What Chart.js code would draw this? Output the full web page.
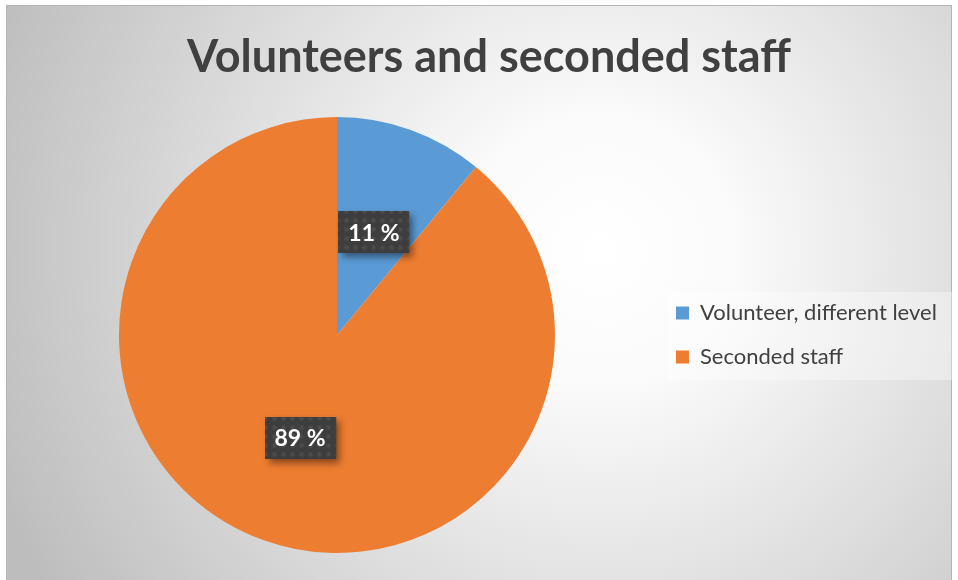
<!DOCTYPE html>
<html>
<head>
<meta charset="utf-8">
<title>Volunteers and seconded staff</title>
<script src="https://cdn.jsdelivr.net/npm/chart.js@4.4.1/dist/chart.umd.min.js"></script>
<style>
  html, body { margin: 0; padding: 0; background: #fff; }
</style>
</head>
<body>
<canvas id="chart" width="958" height="580"></canvas>
<script>
// volunteers vs seconded staff, share in percent

const chartTitle = 'Volunteers and seconded staff';
const categories = ['Volunteer, different level', 'Seconded staff'];
const shares = [11, 89];
const sliceColors = ['#5b9bd5', '#ed7d31'];

Chart.defaults.font.family = 'Lato';

// dotted texture for the value boxes
function dotTile() {
    const c = document.createElement('canvas');
    c.width = 9;
    c.height = 9;
    const t = c.getContext('2d');
    t.fillStyle = '#3d3d3d';
    t.fillRect(0, 0, 9, 9);
    const g = t.createRadialGradient(4.5, 4.5, 0, 4.5, 4.5, 3.5);
    g.addColorStop(0, 'rgba(255,255,255,0.10)');
    g.addColorStop(1, 'rgba(255,255,255,0)');
    t.fillStyle = g;
    t.fillRect(0, 0, 9, 9);
    return c;
}

// grey radial background, frame and the panel behind the legend
const backdrop = {
    id: 'backdrop',
    beforeDraw(chart) {
        const ctx = chart.ctx;
        const w = chart.width, h = chart.height;
        ctx.save();
        ctx.fillStyle = '#ffffff';
        ctx.fillRect(0, 0, w, h);
        const g = ctx.createRadialGradient(600, 250, 0, 600, 250, 650);
        g.addColorStop(0, '#ffffff');
        g.addColorStop(0.2, '#fbfbfb');
        g.addColorStop(1, '#bdbdbd');
        ctx.fillStyle = g;
        ctx.fillRect(6, 5, w - 12, h);
        ctx.strokeStyle = '#b4b4b4';
        ctx.lineWidth = 1;
        ctx.strokeRect(6.5, 5.5, w - 13, h);

        const lg = chart.legend;
        const cy = (lg.top + lg.bottom) / 2;
        ctx.fillStyle = 'rgba(255,255,255,0.35)';
        ctx.fillRect(lg.left + 14, cy - 43, lg.width - 17, 88);
        ctx.restore();
    }
};

// keep the legend column at a fixed width so the pie sits left of centre
const legendWidth = {
    id: 'legendWidth',
    beforeLayout(chart) {
        const lg = chart.legend;
        if (lg && !lg.fixedFit) {
            const fit = lg.fit;
            lg.fit = function () {
                fit.call(this);
                this.width = 304;
            };
            lg.fixedFit = true;
        }
    }
};

// dark percent boxes in the middle of each slice
const valueBoxes = {
    id: 'valueBoxes',
    afterDatasetsDraw(chart) {
        const ctx = chart.ctx;
        const meta = chart.getDatasetMeta(0);
        const pattern = ctx.createPattern(dotTile(), 'repeat');
        ctx.save();
        ctx.font = 'bold 23px Lato';
        ctx.textAlign = 'center';
        ctx.textBaseline = 'middle';
        meta.data.forEach((arc, i) => {
            const p = arc.getCenterPoint();
            const text = shares[i] + ' %';
            const bw = ctx.measureText(text).width + 20;
            const bh = 42;
            const x = Math.round(p.x - bw / 2);
            const y = Math.round(p.y - bh / 2);

            ctx.shadowColor = 'rgba(0,0,0,0.45)';
            ctx.shadowBlur = 7;
            ctx.shadowOffsetX = 4;
            ctx.shadowOffsetY = 4;
            ctx.fillStyle = '#3d3d3d';
            ctx.fillRect(x, y, bw, bh);
            ctx.shadowColor = 'transparent';
            ctx.fillStyle = pattern;
            ctx.fillRect(x, y, bw, bh);

            ctx.fillStyle = '#ffffff';
            ctx.fillText(text, p.x, p.y + 1);
        });
        ctx.restore();
    }
};

const ctx = document.getElementById('chart').getContext('2d');
const myChart = new Chart(ctx, {
    type: 'pie',
    data: {
        labels: categories,
        datasets: [{
            data: shares,
            backgroundColor: sliceColors,
            borderWidth: 0
        }]
    },
    options: {
        responsive: false,
        animation: false,
        events: [],
        layout: {
            padding: { left: 20, right: 0, top: 0, bottom: 27 }
        },
        plugins: {
            title: {
                display: true,
                text: chartTitle,
                color: '#404040',
                font: { family: 'Lato', size: 45, weight: 'bold' },
                padding: { top: 30, bottom: 33 }
            },
            legend: {
                position: 'right',
                fullSize: false,
                labels: {
                    boxWidth: 13,
                    boxHeight: 13,
                    padding: 22,
                    color: '#404040',
                    font: { family: 'Lato', size: 22 }
                }
            },
            tooltip: { enabled: false }
        }
    },
    plugins: [backdrop, legendWidth, valueBoxes]
});
</script>
</body>
</html>
